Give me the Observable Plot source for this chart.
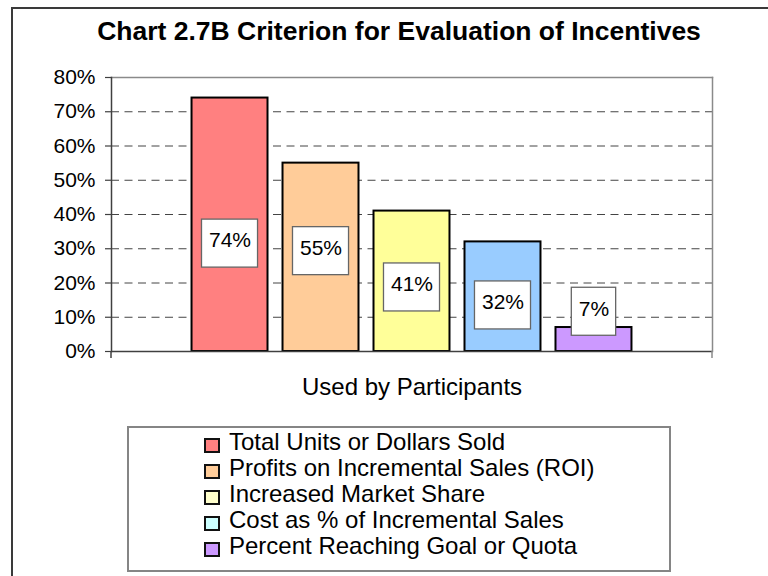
<!DOCTYPE html>
<html>
<head>
<meta charset="utf-8">
<script src="https://cdn.jsdelivr.net/npm/d3@7"></script>
<script src="https://cdn.jsdelivr.net/npm/@observablehq/plot@0.6"></script>
<style>
  html, body { margin: 0; padding: 0; background: #fff; overflow: hidden; }
  #wrap { position: relative; width: 768px; height: 576px; overflow: hidden; background: #fff;
          font-family: "Liberation Sans", Arial, sans-serif; color: #000; }
  #outer { position: absolute; left: 11px; top: 7px; width: 800px; height: 600px;
           border-left: 2px solid #3a3a3a; border-top: 2px solid #3a3a3a; pointer-events: none; }
  #title { position: absolute; left: 399px; top: 16px; transform: translateX(-50%); white-space: nowrap;
           font-weight: bold; font-size: 26.5px; line-height: 30px; }
  #xtitle { position: absolute; left: 412px; top: 373px; transform: translateX(-50%); white-space: nowrap;
            font-size: 24px; line-height: 28px; }
  #legend { position: absolute; left: 127px; top: 426px; width: 540px; height: 142px;
            border: 2px solid #858585; box-sizing: content-box; }
  .row { position: absolute; left: 75px; height: 26px; line-height: 26px; font-size: 24px; white-space: nowrap; }
  .sw { position: absolute; left: 0; top: 9px; width: 16px; height: 15px; box-sizing: border-box; border: 2px solid #111; }
  .lt { position: absolute; left: 25px; top: 0; }
  #chart { position: absolute; left: 0; top: 0; }
</style>
</head>
<body>
<div id="wrap">
  <div id="chart"></div>
  <div id="outer"></div>
  <div id="title"></div>
  <div id="xtitle"></div>
  <div id="legend"></div>
</div>
<script>
const titleText = "Chart 2.7B Criterion for Evaluation of Incentives";
const xTitleText = "Used by Participants";
const categories = [
  "Total Units or Dollars Sold",
  "Profits on Incremental Sales (ROI)",
  "Increased Market Share",
  "Cost as % of Incremental Sales",
  "Percent Reaching Goal or Quota"
];
const values = [0.74, 0.55, 0.41, 0.32, 0.07];
const labelAt = [0.315, 0.293, 0.187, 0.1345, 0.116];
const barColors = ["#FF8080", "#FFCC99", "#FFFF99", "#99CCFF", "#CC99FF"];
const legendColors = ["#FF8080", "#FFCC99", "#FFFFCC", "#CCFFFF", "#CC99FF"];
const yTicks = [0, 0.1, 0.2, 0.3, 0.4, 0.5, 0.6, 0.7, 0.8];
const gridTicks = [0.1, 0.2, 0.3, 0.4, 0.5, 0.6, 0.7];

const data = categories.map((c, i) => ({cat: c, value: values[i], at: labelAt[i], color: barColors[i]}));
const pct = d3.format(".0%");

const plot = Plot.plot({
  width: 768,
  height: 576,
  marginLeft: 111,
  marginRight: 56,
  marginTop: 77,
  marginBottom: 225,
  style: {background: "transparent", fontFamily: "'Liberation Sans', Arial, sans-serif", color: "#000", overflow: "visible"},
  x: {domain: categories, paddingInner: 0.165, paddingOuter: 0.885, round: false, axis: null},
  y: {domain: [0, 0.8], axis: null},
  color: {type: "identity"},
  marks: [
    Plot.gridY(gridTicks, {stroke: "#444", strokeOpacity: 1, strokeWidth: 1, strokeDasharray: "8,5.5"}),
    Plot.frame({anchor: "top", stroke: "#8a8a8a", strokeWidth: 1.5}),
    Plot.frame({anchor: "right", stroke: "#8a8a8a", strokeWidth: 1.5}),
    Plot.barY(data, {x: "cat", y: "value", fill: "color", stroke: "#000", strokeWidth: 2}),
    Plot.ruleY([0], {stroke: "#404040", strokeWidth: 1.5}),
    Plot.frame({anchor: "left", stroke: "#404040", strokeWidth: 1.5}),
    Plot.axisY({ticks: yTicks, tickFormat: pct, tickSize: 6, tickPadding: 10, fontSize: 21, stroke: "#404040", strokeWidth: 1.2}),
    Plot.text(data, {x: "cat", y: "at", text: d => pct(d.value), fontSize: 21, fill: "#000", dy: -3})
  ]
});

document.getElementById("chart").appendChild(plot);
document.getElementById("title").textContent = titleText;
document.getElementById("xtitle").textContent = xTitleText;

// boxes around value labels, width from the rendered text, position from the scales
const ys = plot.scale("y");
const xs = plot.scale("x");
const ns = "http://www.w3.org/2000/svg";
const svgEl = plot.tagName.toLowerCase() === "svg" ? plot : plot.querySelector("svg");
const svg = d3.select(svgEl);
const textGroup = svgEl.querySelector('g[aria-label="text"]');
const labelNodes = Array.from(textGroup.querySelectorAll("text"));
const boxG = document.createElementNS(ns, "g");
textGroup.parentNode.insertBefore(boxG, textGroup);
labelNodes.forEach((node, i) => {
  const bb = node.getBBox();
  const cx = xs.apply(categories[i]) + xs.bandwidth / 2;
  const cy = ys.apply(labelAt[i]);
  const w = bb.width + 14;
  const r = document.createElementNS(ns, "rect");
  r.setAttribute("x", cx - w / 2);
  r.setAttribute("y", cy - 24);
  r.setAttribute("width", w);
  r.setAttribute("height", 48);
  r.setAttribute("fill", "#fff");
  r.setAttribute("stroke", "#666");
  r.setAttribute("stroke-width", "1.3");
  boxG.appendChild(r);
});

// small category-axis ticks below the baseline at both plot edges
const xr = xs.range;
const y0 = ys.apply(0);
[[xr[0], "#404040"], [xr[1], "#8a8a8a"]].forEach(([x, c]) => {
  svg.append("line").attr("x1", x).attr("x2", x).attr("y1", y0).attr("y2", y0 + 7)
    .attr("stroke", c).attr("stroke-width", 1.5);
});

// legend
const legend = document.getElementById("legend");
categories.forEach((c, i) => {
  const row = document.createElement("div");
  row.className = "row";
  row.style.top = (1 + 26 * i) + "px";
  const sw = document.createElement("span");
  sw.className = "sw";
  sw.style.background = legendColors[i];
  const t = document.createElement("span");
  t.className = "lt";
  t.textContent = c;
  row.appendChild(sw);
  row.appendChild(t);
  legend.appendChild(row);
});
</script>
</body>
</html>
